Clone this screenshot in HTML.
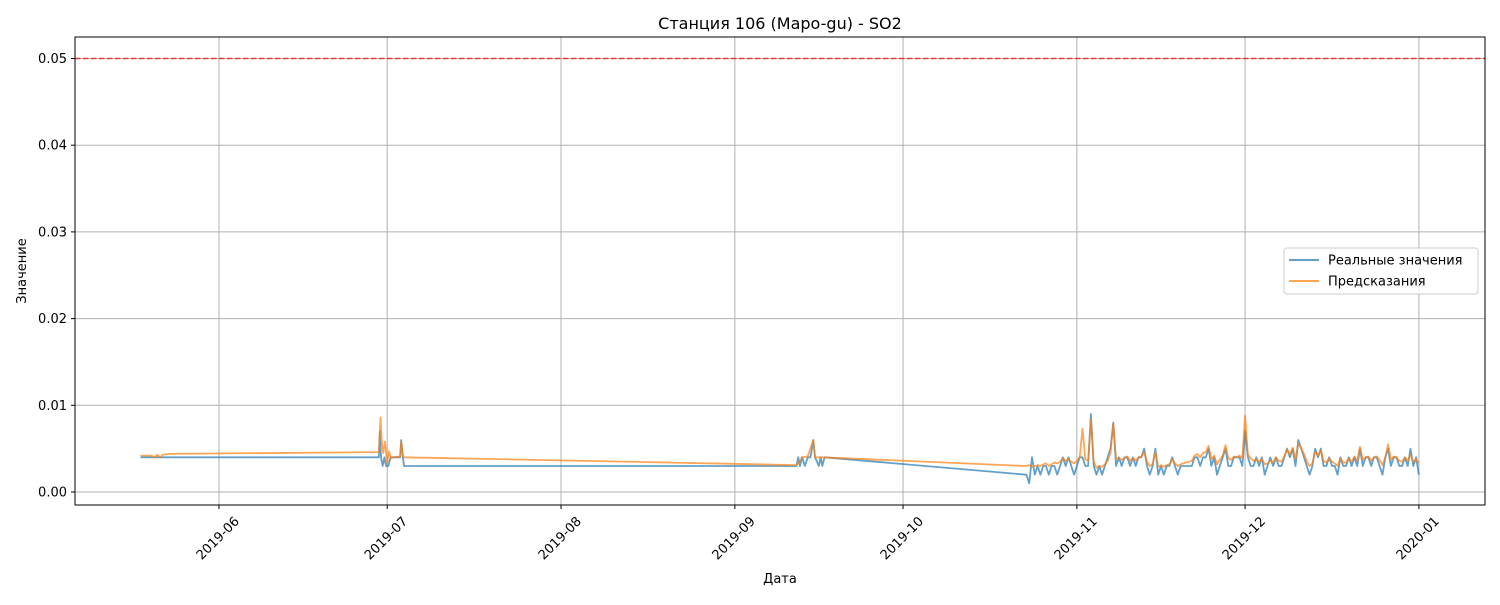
<!DOCTYPE html>
<html><head><meta charset="utf-8"><style>
body{margin:0;background:#fff;font-family:"Liberation Sans","DejaVu Sans",sans-serif}
</style></head><body>
<svg id="chart" width="1500" height="600" xmlns="http://www.w3.org/2000/svg" font-family="DejaVu Sans, Liberation Sans, sans-serif"></svg>
<script>
const xTickLabels=["2019-06","2019-07","2019-08","2019-09","2019-10","2019-11","2019-12","2020-01"];
const xTickDays=[0,30,61,92,122,153,183,214];
const yTicks=[0,0.01,0.02,0.03,0.04,0.05];
const threshold=0.05;
const realSparseDays=[-14,28.5,28.7,28.9,29.2,29.5,29.8,30.2,30.6,31,32.3,32.5,32.8,33,103,103.3,103.6,104,104.5,105,105.5,106,106.3,107,107.3,107.6,108,144];
const realSparseVals=[4,4,7,4,3,4,3,3,4,4,4,6,4,3,3,4,3,4,3,4,4,6,4,3,4,3,4,2];
const predSparseDays=[-14,-12,-11.5,-11,-10.5,-10,-9,28.5,28.8,29,29.3,29.6,30,30.3,30.7,31,32.3,32.5,32.8,33,103,103.5,104,105,106,106.3,107.5,144];
const predSparseVals=[4.2,4.2,4.0,4.3,4.0,4.3,4.4,4.6,8.6,6.0,4.5,5.8,3.3,4.7,3.9,4.0,4.1,5.8,4.2,4.0,3.1,3.5,4.0,4.1,6.0,4.0,4.0,3.0];
const denseStart=144;
const denseStep=0.5;
const realDense=[2,1,4,2,3,2,3,3,2,3,3,2,3,4,3,4,3,2,3,4,4,3,
3,9,3,2,3,2,3,4,5,8,3,4,3,4,4,3,4,3,4,4,5,3,
2,3,5,2,3,2,3,3,4,3,2,3,3,3,3,3,4,4,3,4,4,5,
3,4,2,3,4,5,3,3,4,4,4,3,7,4,3,3,4,3,4,2,3,4,
3,4,3,3,4,5,4,5,3,6,5,4,3,2,3,5,4,5,3,3,4,3,
3,2,4,3,3,4,3,4,3,5,3,4,4,3,4,4,3,2,4,5,3,4,
4,3,3,4,3,5,3,4,2];
const predDense=[3.0,3.1,2.9,3.0,3.1,3.0,3.2,3.3,3.0,3.2,3.4,3.3,3.5,3.9,3.6,3.8,3.5,3.3,3.6,4.0,7.3,3.8,
3.6,8.4,3.5,2.8,3.0,2.9,3.2,3.6,4.5,7.9,3.8,3.9,3.7,3.9,4.1,3.6,3.9,3.6,4.0,4.1,4.6,3.5,
3.0,3.2,4.6,2.9,3.1,2.9,3.1,3.2,3.8,3.3,3.0,3.2,3.3,3.4,3.5,3.6,4.2,4.4,4.0,4.5,4.6,5.3,
3.8,4.2,3.2,3.7,4.2,5.4,3.9,3.7,4.1,4.0,4.2,3.9,8.8,4.3,3.9,3.6,3.8,3.5,3.8,3.2,3.3,3.6,
3.4,4.0,3.6,3.5,4.1,4.9,4.3,5.1,3.8,5.6,5.0,4.4,3.5,3.0,3.3,4.6,4.2,4.8,3.6,3.4,3.9,3.5,
3.3,3.0,3.9,3.4,3.4,3.9,3.5,4.1,3.6,5.2,3.7,4.0,4.1,3.6,4.0,4.1,3.7,3.1,4.0,5.5,3.7,4.1,
4.0,3.6,3.5,4.0,3.6,4.3,3.5,3.8,3.3];

const L=75,R=1485,T=37,B=505;
const xS=d=>219+d*5.607;
const yS=v=>492-v*8670;
const NS="http://www.w3.org/2000/svg";
const svg=document.getElementById('chart');
function mk(tag,attrs,parent){const e=document.createElementNS(NS,tag);for(const k in attrs)e.setAttribute(k,attrs[k]);(parent||svg).appendChild(e);return e;}

const grid=mk('g',{});


xTickDays.forEach((d,i)=>{
  const x=xS(d);
  mk('line',{x1:x,x2:x,y1:T,y2:B,stroke:'#b0b0b0','stroke-width':1},grid);
  mk('line',{x1:x,x2:x,y1:B,y2:B+4,stroke:'#000'});
  const ax=x+21, ay=B+17;
  const t=mk('text',{x:ax,y:ay,'font-size':13,'text-anchor':'end',transform:`rotate(-45 ${ax} ${ay})`});
  t.textContent=xTickLabels[i];
  
  
});
yTicks.forEach(v=>{
  const y=yS(v);
  mk('line',{x1:L,x2:R,y1:y,y2:y,stroke:'#b0b0b0','stroke-width':1},grid);
  mk('line',{x1:L-4,x2:L,y1:y,y2:y,stroke:'#000'});
  const t=mk('text',{x:L-8,y:y+4.5,'font-size':13,'text-anchor':'end'});
  t.textContent=v.toFixed(2);
  
  
});
const th=mk('line',{x1:L,x2:R,y1:yS(threshold),y2:yS(threshold),stroke:'#ff0000','stroke-opacity':0.7,'stroke-width':1.5,'stroke-dasharray':'5.5,2.5'});



function series(sd,sv,dense,color,name){
  const pts=[];
  for(let i=0;i<sd.length-1;i++)pts.push([sd[i],sv[i]/1000]);
  dense.forEach((v,i)=>pts.push([denseStart+i*denseStep,v/1000]));
  const p=mk('polyline',{points:pts.map(p=>xS(p[0]).toFixed(1)+','+yS(p[1]).toFixed(1)).join(' '),fill:'none',stroke:color,'stroke-opacity':0.7,'stroke-width':1.8,'stroke-linejoin':'round'});
  
  
}
series(realSparseDays,realSparseVals,realDense,'#1f77b4','real-values-line');
series(predSparseDays,predSparseVals,predDense,'#ff7f0e','predictions-line');

const fr=mk('rect',{x:L,y:T,width:R-L,height:B-T,fill:'none',stroke:'#000','stroke-width':1});



const title=mk('text',{x:780,y:29,'font-size':16,'text-anchor':'middle'});
title.textContent='Станция 106 (Mapo-gu) - SO2';


const xl=mk('text',{x:780,y:583,'font-size':13,'text-anchor':'middle'});
xl.textContent='Дата';


const yl=mk('text',{x:26,y:271,'font-size':13,'text-anchor':'middle',transform:'rotate(-90 26 271)'});
yl.textContent='Значение';



const lg=mk('g',{});


mk('rect',{x:1284,y:248,width:194,height:46,rx:3,fill:'#fff','fill-opacity':0.8,stroke:'#ccc'},lg);
[['Реальные значения','#1f77b4',260],['Предсказания','#ff7f0e',281]].forEach(([n,c,y])=>{
  mk('line',{x1:1289,x2:1319,y1:y,y2:y,stroke:c,'stroke-opacity':0.7,'stroke-width':2},lg);
  const t=mk('text',{x:1328,y:y+4.5,'font-size':13},lg);
  t.textContent=n;
  
  
});
</script>
</body></html>
